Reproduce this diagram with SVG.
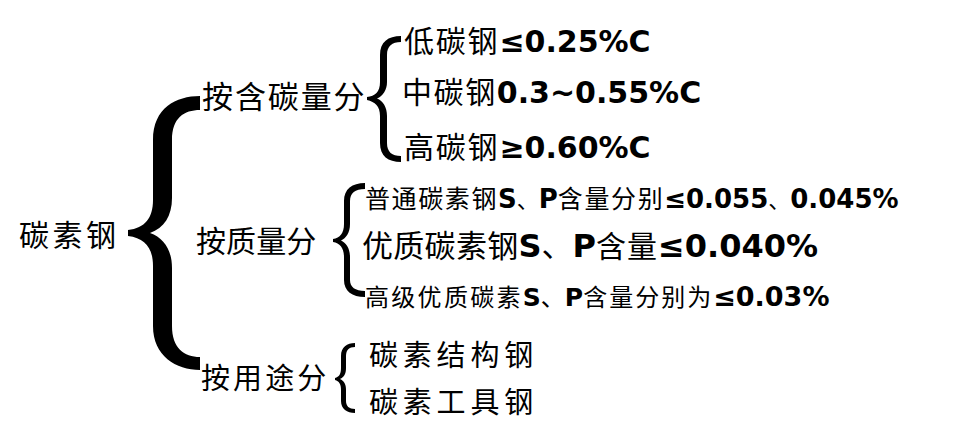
<svg xmlns="http://www.w3.org/2000/svg" width="960" height="426" viewBox="0 0 960 426">
<style>
.cjk{font-family:"Noto Sans CJK SC","Noto Sans CJK JP",sans-serif;fill:#000}
.lat{font-family:"DejaVu Sans","Noto Sans CJK SC",sans-serif;font-weight:bold;fill:#000}
.brace{fill:#000;stroke:none}
</style>
<rect width="960" height="426" fill="#fff"/>
<g id="connectors">
<path class="brace" d="M200,96 C176,96 153,108 153,140 L153,200 C153,218 145,228 128,230 L128,236 C145,238 153,248 153,266 L153,326 C153,356 176,370 200,370 L200,357 C184,357 172,348 172,326 L172,268 C172,250 164,238 150,233 C164,228 172,216 172,198 L172,140 C172,118 184,110 200,110 Z"/>
<path class="brace" d="M401,36 C388,36 380,42 380,55 L380,82 C380,92 375,96 367,97 L367,100 C375,102 380,106 380,116 L380,143 C380,156 388,162 401,162 L401,156 C392,156 387,152 387,143 L387,116 C387,107 383,101 377,98.5 C383,96 387,90 387,82 L387,55 C387,46 392,42 401,42 Z"/>
<path class="brace" d="M365,183 C352,183 344,189 344,201 L344,224 C344,233 340,238 333,239 L333,242 C340,243 344,248 344,257 L344,280 C344,291 352,297 365,297 L365,291 C355,291 350,287 350,280 L350,257 C350,248 346,243 341,240.5 C346,238 350,233 350,224 L350,201 C350,193 355,189 365,189 Z"/>
<path class="brace" d="M355,343 C347,343 341,347 341,356 L341,368 C341,374 339,377 335,378 L335,380 C339,381 341,384 341,390 L341,401 C341,409 347,413 355,413 L355,409 C349,409 346,406 346,401 L346,390 C346,384 344,381 340,379 C344,377 346,374 346,368 L346,356 C346,350 349,347 355,347 Z"/>
</g>
<g id="root">
<text class="cjk" x="19" y="246" font-size="30" letter-spacing="3.5">碳素钢</text>
</g>
<g id="by-carbon">
<text class="cjk" x="202" y="108" font-size="31" letter-spacing="1.9">按含碳量分</text>
</g>
<g id="low-carbon">
<text y="52"><tspan class="cjk" x="404" font-size="30" letter-spacing="1.8">低碳钢</tspan><tspan class="lat" font-size="30">≤0.25%C</tspan></text>
</g>
<g id="mid-carbon">
<text y="103"><tspan class="cjk" x="402" font-size="30" letter-spacing="1.6">中碳钢</tspan><tspan class="lat" font-size="30">0.3~0.55%C</tspan></text>
</g>
<g id="high-carbon">
<text y="158"><tspan class="cjk" x="404" font-size="30" letter-spacing="1.8">高碳钢</tspan><tspan class="lat" font-size="30">≥0.60%C</tspan></text>
</g>
<g id="by-quality">
<text class="cjk" x="196" y="252" font-size="30" letter-spacing="0.1">按质量分</text>
</g>
<g id="ordinary">
<text x="365" y="208"><tspan class="cjk" font-size="25" letter-spacing="1.6">普通碳素钢</tspan><tspan class="lat" font-size="26">S</tspan><tspan class="cjk" font-size="22">、</tspan><tspan class="lat" font-size="26">P</tspan><tspan class="cjk" font-size="25" letter-spacing="1.6">含量分别</tspan><tspan class="lat" font-size="26">≤0.055</tspan><tspan class="cjk" font-size="22">、</tspan><tspan class="lat" font-size="26">0.045%</tspan></text>
</g>
<g id="quality">
<text x="362" y="257"><tspan class="cjk" font-size="31" letter-spacing="0.3">优质碳素钢</tspan><tspan class="lat" font-size="32">S</tspan><tspan class="cjk" font-size="31">、</tspan><tspan class="lat" font-size="32">P</tspan><tspan class="cjk" font-size="30" letter-spacing="1">含量</tspan><tspan class="lat" font-size="32">≤0.040%</tspan></text>
</g>
<g id="high-quality">
<text x="365" y="306"><tspan class="cjk" font-size="24" letter-spacing="2.3">高级优质碳素</tspan><tspan class="lat" font-size="25">S</tspan><tspan class="cjk" font-size="24">、</tspan><tspan class="lat" font-size="25">P</tspan><tspan class="cjk" font-size="24" letter-spacing="2">含量分别为</tspan><tspan class="lat" font-size="27">≤0.03%</tspan></text>
</g>
<g id="by-use">
<text class="cjk" x="201" y="389" font-size="29" letter-spacing="3.1">按用途分</text>
</g>
<g id="structural">
<text class="cjk" x="369" y="366" font-size="29" letter-spacing="4.8">碳素结构钢</text>
</g>
<g id="tool">
<text class="cjk" x="369" y="413" font-size="29" letter-spacing="4.8">碳素工具钢</text>
</g>
</svg>
